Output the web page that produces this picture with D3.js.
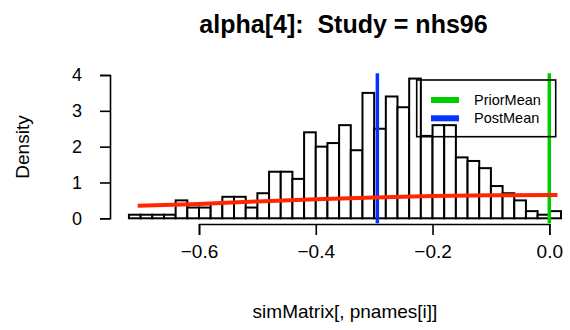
<!DOCTYPE html>
<html>
<head>
<meta charset="utf-8">
<script src="https://cdn.jsdelivr.net/npm/d3@7"></script>
<style>
  body { margin: 0; background: #fff; }
  text { font-family: "Liberation Sans", Arial, Helvetica, sans-serif; }
</style>
</head>
<body>
<div id="chart"></div>
<script>
// histogram: bin starts every 0.02 from -0.72, density per bin
var binStart = -0.72, binWidth = 0.02
var densities = [0.1, 0.1, 0.1, 0.1, 0.5, 0.3, 0.3, 0.4, 0.6, 0.6, 0.3, 0.7,
  1.3, 1.3, 1.1, 2.4, 2.0, 2.1, 2.6, 1.9, 3.5, 2.5, 3.4, 3.1, 3.9, 2.3,
  2.6, 2.6, 1.7, 1.6, 1.4, 0.9, 0.7, 0.5, 0.2, 0.1, 0.2]
// prior density curve
var priorX = [-0.705, -0.6, -0.5, -0.4, -0.3, -0.2, -0.1, 0.0, 0.014]
var priorY = [0.35, 0.40, 0.47, 0.53, 0.58, 0.62, 0.64, 0.65, 0.65]
var priorMean = 0.0, postMean = -0.2945
var xTicks = [-0.6, -0.4, -0.2, 0.0]
var yTicks = [0, 1, 2, 3, 4]
var legendNames = ["PriorMean", "PostMean"]
var legendColors = ["#00cd00", "#0433ff"]

var width = 570, height = 330

var svg = d3.select("#chart")
  .append("svg")
  .attr("width", width)
  .attr("height", height)

var x = d3.scaleLinear().domain([-0.6, 0]).range([199, 549.3])
var y = d3.scaleLinear().domain([0, 4]).range([218.3, 75])

var bins = densities.map(function (d, i) {
  return { x0: binStart + i * binWidth, x1: binStart + (i + 1) * binWidth, d: d }
})

svg.append("g")
  .selectAll("rect")
  .data(bins)
  .enter()
  .append("rect")
  .attr("x", function (d) { return x(d.x0) })
  .attr("width", function (d) { return x(d.x1) - x(d.x0) })
  .attr("y", function (d) { return y(d.d) })
  .attr("height", function (d) { return y(0) - y(d.d) })
  .attr("fill", "white")
  .attr("stroke", "black")
  .attr("stroke-width", 2)

// vertical mean lines span the plot region
svg.append("line")
  .attr("x1", x(postMean)).attr("x2", x(postMean))
  .attr("y1", y(-0.14)).attr("y2", y(4.05))
  .attr("stroke", legendColors[1])
  .attr("stroke-width", 3.5)
svg.append("line")
  .attr("x1", x(priorMean)).attr("x2", x(priorMean))
  .attr("y1", y(-0.14)).attr("y2", y(4.05))
  .attr("stroke", legendColors[0])
  .attr("stroke-width", 3.5)

var line = d3.line()
  .x(function (d, i) { return x(priorX[i]) })
  .y(function (d) { return y(d) })
  .curve(d3.curveMonotoneX)
svg.append("path")
  .datum(priorY)
  .attr("d", line)
  .attr("fill", "none")
  .attr("stroke", "#ff2600")
  .attr("stroke-width", 4)

// axes
var xAxis = svg.append("g")
  .attr("transform", "translate(0,224)")
  .call(d3.axisBottom(x).tickValues(xTicks).tickFormat(d3.format(".1f")).tickSizeOuter(0).tickSize(11).tickPadding(10))
xAxis.select(".domain").attr("stroke-width", 1.6)
xAxis.selectAll(".tick line").attr("stroke-width", 1.6)
xAxis.selectAll("text").attr("font-size", "19px").attr("font-family", "Liberation Sans, Arial, sans-serif")
  .text(function (d) { return d3.format(".1f")(d).replace("-", "\u2212") })

var yAxis = svg.append("g")
  .attr("transform", "translate(110,0)")
  .call(d3.axisLeft(y).tickValues(yTicks).tickFormat(d3.format("d")).tickSizeOuter(0).tickSize(10).tickPadding(18))
yAxis.select(".domain").attr("stroke-width", 1.6)
yAxis.selectAll(".tick line").attr("stroke-width", 1.6)
yAxis.selectAll("text").attr("font-size", "18px").attr("font-family", "Liberation Sans, Arial, sans-serif")

// titles
svg.append("text")
  .attr("x", 343.5).attr("y", 33)
  .attr("text-anchor", "middle")
  .attr("font-size", "25px")
  .attr("font-weight", "bold")
  .attr("xml:space", "preserve")
  .text("alpha[4]:  Study = nhs96")

svg.append("text")
  .attr("x", 345).attr("y", 318)
  .attr("text-anchor", "middle")
  .attr("font-size", "19px")
  .text("simMatrix[, pnames[i]]")

svg.append("text")
  .attr("transform", "translate(29,147) rotate(-90)")
  .attr("text-anchor", "middle")
  .attr("font-size", "19px")
  .text("Density")

// legend
var legend = svg.append("g")
legend.append("rect")
  .attr("x", 416.7).attr("y", 80)
  .attr("width", 139).attr("height", 56.7)
  .attr("fill", "none")
  .attr("stroke", "black")
  .attr("stroke-width", 1.6)
legend.selectAll("line.key")
  .data(legendNames)
  .enter()
  .append("line")
  .attr("x1", 431).attr("x2", 459)
  .attr("y1", function (d, i) { return 100 + i * 18.3 })
  .attr("y2", function (d, i) { return 100 + i * 18.3 })
  .attr("stroke", function (d, i) { return legendColors[i] })
  .attr("stroke-width", 6)
legend.selectAll("text.key")
  .data(legendNames)
  .enter()
  .append("text")
  .attr("x", 474)
  .attr("y", function (d, i) { return 105 + i * 18.3 })
  .attr("font-size", "14.5px")
  .text(function (d) { return d })
</script>
</body>
</html>
